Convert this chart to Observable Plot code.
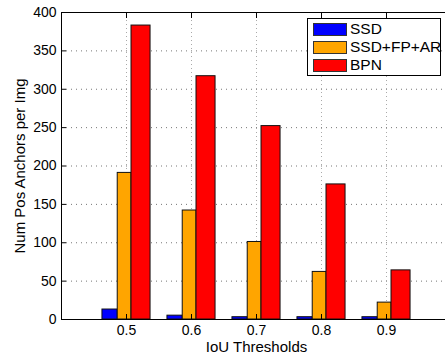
<!DOCTYPE html>
<html>
<head>
<meta charset="utf-8">
<script src="https://cdn.jsdelivr.net/npm/d3@7"></script>
<script src="https://cdn.jsdelivr.net/npm/@observablehq/plot@0.6"></script>
<style>
  html, body { margin: 0; padding: 0; background: #fff; overflow: hidden; }
  #wrap { position: relative; width: 445px; height: 354px; overflow: hidden; }
  #wrap svg { overflow: hidden; }
  #legend {
    position: absolute; left: 307px; top: 18px; width: 134px; height: 58px;
    border: 1px solid #000; background: #fff; box-sizing: border-box;
    font-family: "Liberation Sans", Arial, sans-serif; font-size: 15.5px; color: #000;
  }
  #legend .row { position: absolute; left: 5px; height: 14px; display: flex; align-items: center; }
  #legend .sw { width: 34px; height: 13px; border: 1px solid #333; box-sizing: border-box; margin-right: 3px; }
  #legend .lab { line-height: 14px; }
</style>
</head>
<body>
<div id="wrap"></div>
<script>
// ---- data ----
const thresholds = [0.5, 0.6, 0.7, 0.8, 0.9];
const seriesNames = ["SSD", "SSD+FP+AR", "BPN"];
const ssd = [13, 5, 3, 3, 3];
const ssdFpAr = [191, 142, 101, 62, 22];
const bpn = [383, 317, 252, 176, 64];
const yTicks = [0, 50, 100, 150, 200, 250, 300, 350, 400];
const xTickLabels = ["0.5", "0.6", "0.7", "0.8", "0.9"];
const xLabel = "IoU Thresholds";
const yLabel = "Num Pos Anchors per Img";
const colors = ["#0000ff", "#ffa500", "#ff0000"];

// bar offsets within a group (data units)
const offsets = [[-0.037, -0.0135], [-0.0135, 0.0077], [0.0077, 0.037]];
const seriesValues = [ssd, ssdFpAr, bpn];
const bars = [];
seriesValues.forEach((vals, s) => {
  vals.forEach((v, i) => {
    bars.push({
      series: seriesNames[s],
      x1: thresholds[i] + offsets[s][0],
      x2: thresholds[i] + offsets[s][1],
      value: v,
      color: colors[s]
    });
  });
});

const font = "'Liberation Sans', Arial, sans-serif";

const chart = Plot.plot({
  width: 445,
  height: 354,
  marginLeft: 61,
  marginRight: 0,
  marginTop: 12,
  marginBottom: 35,
  style: { fontFamily: font, fontSize: "14px", background: "#fff", color: "#000" },
  x: { domain: [0.4, 1.0], range: [61, 451] },
  y: { domain: [0, 400], range: [319, 12] },
  marks: [
    // grid
    Plot.ruleY(yTicks.slice(1, -1), { stroke: "#777", strokeDasharray: "1,4", strokeWidth: 1 }),
    Plot.ruleX(thresholds, { stroke: "#aaa", strokeDasharray: "1,3", strokeWidth: 1 }),
    // bars
    Plot.rect(bars, {
      x1: "x1", x2: "x2", y1: 0, y2: "value",
      fill: "color", stroke: "#111", strokeWidth: 1
    }),
    // frame lines
    Plot.ruleX([0.4], { y1: 0, y2: 400, stroke: "#000", strokeWidth: 1 }),
    Plot.ruleY([0], { x1: 0.4, x2: 1.0, stroke: "#000", strokeWidth: 1 }),
    Plot.ruleY([400], { x1: 0.4, x2: 1.0, stroke: "#000", strokeWidth: 1 }),
    // axes
    Plot.axisY(yTicks, {
      anchor: "left", tickSize: -5, tickPadding: 10, label: null, fontSize: 14
    }),
    Plot.axisX(thresholds, {
      anchor: "bottom", tickSize: -5, tickPadding: 11,
      tickFormat: (d, i) => xTickLabels[i], label: null, fontSize: 14
    }),
    Plot.axisX(thresholds, {
      anchor: "top", tickSize: -5, tickFormat: () => "", label: null
    }),
    // axis titles
    Plot.text([xLabel], { x: [0.7], frameAnchor: "bottom", textAnchor: "middle", lineAnchor: "bottom", dy: 32, fontSize: 15, text: d => d }),
    Plot.text([yLabel], { y: [200], frameAnchor: "left", textAnchor: "middle", dx: -41, rotate: -90, fontSize: 15, text: d => d })
  ]
});

const wrap = document.getElementById("wrap");
wrap.appendChild(chart);

// legend (inside plot area, top-right)
const legend = document.createElement("div");
legend.id = "legend";
seriesNames.forEach((name, i) => {
  const row = document.createElement("div");
  row.className = "row";
  row.style.top = (3 + i * 18) + "px";
  const sw = document.createElement("div");
  sw.className = "sw";
  sw.style.background = colors[i];
  const lab = document.createElement("span");
  lab.className = "lab";
  lab.textContent = name;
  row.appendChild(sw);
  row.appendChild(lab);
  legend.appendChild(row);
});
wrap.appendChild(legend);
</script>
</body>
</html>
